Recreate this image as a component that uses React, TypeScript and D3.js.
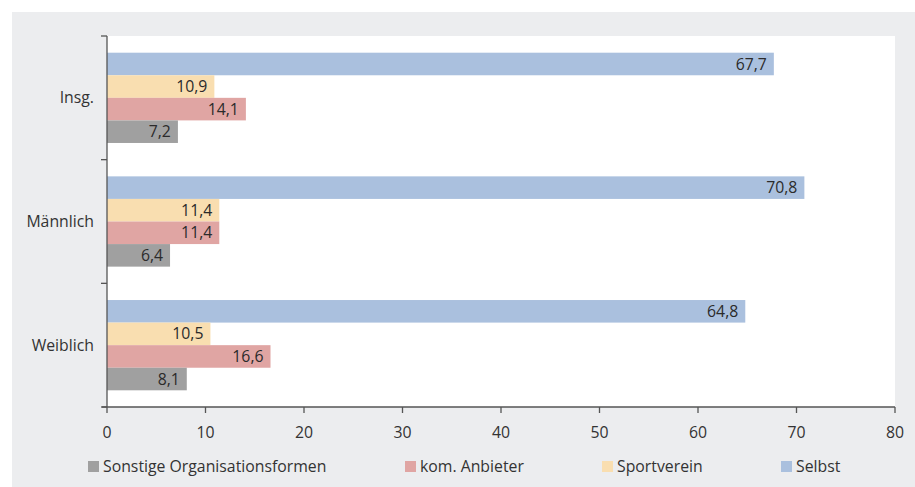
import React from 'react';
import * as d3 from 'd3';

const categories = ['Insg.', 'Männlich', 'Weiblich'];
const seriesNames = ['Selbst', 'Sportverein', 'kom. Anbieter', 'Sonstige Organisationsformen'];
const selbst = [67.7, 70.8, 64.8];
const sportverein = [10.9, 11.4, 10.5];
const komAnbieter = [14.1, 11.4, 16.6];
const sonstige = [7.2, 6.4, 8.1];
const xTicks = [0, 10, 20, 30, 40, 50, 60, 70, 80];

const colors = ['#aac0de', '#f9deb0', '#e0a5a3', '#a0a0a0'];
const legendOrder = [3, 2, 1, 0];
const legendX = [88, 405, 602, 781];

const W = 915, H = 487;
const left = 107, right = 895, top = 36, bottom = 407;
const font = '"Open Sans", "Liberation Sans", Arial, sans-serif';
const fs = 15.8;

const App = () => {
    const values = [selbst, sportverein, komAnbieter, sonstige];
    const x = d3.scaleLinear().domain([0, 80]).range([left, right]);
    const y = d3.scaleBand().domain(categories).range([top, bottom]).paddingInner(0.27).paddingOuter(0.135);
    const inner = d3.scaleBand().domain(seriesNames).range([0, y.bandwidth()]);
    const fmt = (v: number) => v.toFixed(1).replace('.', ',');
    const step = y.step();

    return (
        <svg width={W} height={H} style={{ position: 'absolute', left: 0, top: 0, fontFamily: font }}>
            <rect x={12} y={12} width={W - 12} height={H - 12} fill="#ecedef" />
            <rect x={left} y={top} width={right - left} height={bottom - top} fill="#fff" />

            {categories.map((c, i) => (
                <g key={c}>
                    {seriesNames.map((s, j) => {
                        const v = values[j][i];
                        const by = (y(c) as number) + (inner(s) as number);
                        return (
                            <g key={s}>
                                <rect x={x(0)} y={by} width={x(v) - x(0)} height={inner.bandwidth()} fill={colors[j]} />
                                <text x={x(v) - 7} y={by + inner.bandwidth() / 2} dy="0.35em" textAnchor="end"
                                    fontSize={fs} fill="#2b2b2b">{fmt(v)}</text>
                            </g>
                        );
                    })}
                    <text x={94} y={(y(c) as number) + y.bandwidth() / 2} dy="0.35em" textAnchor="end"
                        fontSize={fs} fill="#333">{c}</text>
                </g>
            ))}

            {/* y axis */}
            <line x1={left} x2={left} y1={top} y2={bottom} stroke="#555" strokeWidth={1.3} />
            {d3.range(categories.length + 1).map(k => {
                const ty = Math.min(top + k * step, bottom);
                return <line key={k} x1={left - 6} x2={left} y1={ty} y2={ty} stroke="#555" strokeWidth={1.3} />;
            })}

            {/* x axis */}
            <line x1={left - 5} x2={right} y1={bottom} y2={bottom} stroke="#555" strokeWidth={1.3} />
            {xTicks.map(t => (
                <g key={t}>
                    <line x1={x(t)} x2={x(t)} y1={bottom} y2={bottom + 6} stroke="#555" strokeWidth={1.3} />
                    <text x={x(t)} y={432} dy="0.35em" textAnchor="middle" fontSize={fs} fill="#333">{t}</text>
                </g>
            ))}

            {/* legend */}
            {legendOrder.map((j, k) => (
                <g key={seriesNames[j]}>
                    <rect x={legendX[k]} y={461} width={11} height={11} fill={colors[j]} />
                    <text x={legendX[k] + 15} y={466.5} dy="0.35em" fontSize={fs} fill="#333">{seriesNames[j]}</text>
                </g>
            ))}
        </svg>
    );
};

export default App;
